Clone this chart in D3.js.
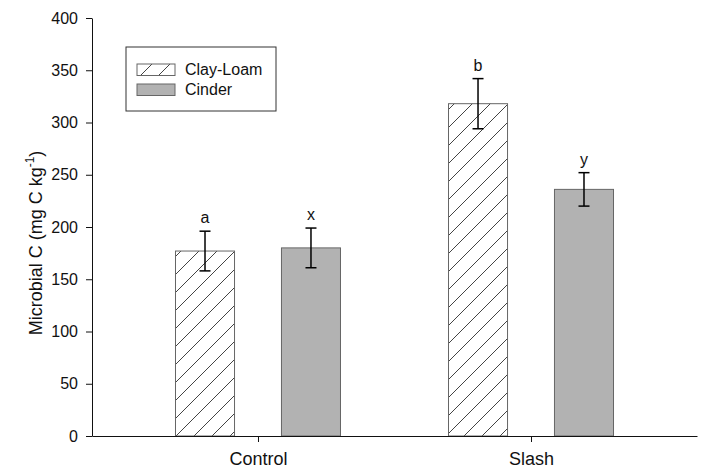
<!DOCTYPE html>
<html>
<head>
<meta charset="utf-8">
<script src="https://cdn.jsdelivr.net/npm/d3@7"></script>
<style>
  html, body { margin: 0; padding: 0; background: #fff; }
  svg { display: block; font-family: "Liberation Sans", Arial, Helvetica, sans-serif; }
</style>
</head>
<body>
<svg id="chart" width="701" height="470"></svg>
<script>
// ---- data ----
const groups = ["Control", "Slash"];
const series = ["Clay-Loam", "Cinder"];
const clayLoamValues = [177, 318];
const clayLoamErrors = [19, 24];
const cinderValues = [180, 236];
const cinderErrors = [19, 16];
const clayLoamLetters = ["a", "b"];
const cinderLetters = ["x", "y"];
const yTicks = [0, 50, 100, 150, 200, 250, 300, 350, 400];

(function () {
// ---- layout ----
const plotLeft = 92, plotRight = 697, plotTop = 18, plotBottom = 436;

const svg = d3.select("#chart");

const defs = svg.append("defs");
const pat = defs.append("pattern")
  .attr("id", "hatch")
  .attr("patternUnits", "userSpaceOnUse")
  .attr("width", 18).attr("height", 18);
pat.append("rect").attr("width", 18).attr("height", 18).attr("fill", "#fff");
pat.append("path")
  .attr("d", "M-2,20 L20,-2 M-4,4 L4,-4 M14,22 L22,14")
  .attr("stroke", "#444").attr("stroke-width", 1).attr("fill", "none");

const y = d3.scaleLinear().domain([0, 400]).range([plotBottom, plotTop]);
const x0 = d3.scalePoint().domain(groups).range([plotLeft, plotRight]).padding(0.608);
const x1 = d3.scaleBand().domain(series).range([-82.5, 82.5]).paddingInner(0.443);

const fills = { "Clay-Loam": "url(#hatch)", "Cinder": "#b2b2b2" };
const strokes = { "Clay-Loam": "#666", "Cinder": "#666" };

const rows = [];
groups.forEach((g, i) => {
  rows.push({ g, s: "Clay-Loam", v: clayLoamValues[i], e: clayLoamErrors[i], l: clayLoamLetters[i] });
  rows.push({ g, s: "Cinder", v: cinderValues[i], e: cinderErrors[i], l: cinderLetters[i] });
});

// bars
svg.append("g").selectAll("rect").data(rows).join("rect")
  .attr("x", d => x0(d.g) + x1(d.s))
  .attr("y", d => y(d.v))
  .attr("width", x1.bandwidth())
  .attr("height", d => y(0) - y(d.v))
  .attr("fill", d => fills[d.s])
  .attr("stroke", d => strokes[d.s])
  .attr("stroke-width", 1);

// error bars
const eg = svg.append("g").attr("stroke", "#000").attr("stroke-width", 1.5);
rows.forEach(d => {
  const cx = x0(d.g) + x1(d.s) + x1.bandwidth() / 2;
  eg.append("line").attr("x1", cx).attr("x2", cx).attr("y1", y(d.v + d.e)).attr("y2", y(d.v - d.e));
  eg.append("line").attr("x1", cx - 5.5).attr("x2", cx + 5.5).attr("y1", y(d.v + d.e)).attr("y2", y(d.v + d.e));
  eg.append("line").attr("x1", cx - 5.5).attr("x2", cx + 5.5).attr("y1", y(d.v - d.e)).attr("y2", y(d.v - d.e));
});

// letters
svg.append("g").selectAll("text").data(rows).join("text")
  .attr("x", d => x0(d.g) + x1(d.s) + x1.bandwidth() / 2)
  .attr("y", d => y(d.v + d.e) - 8)
  .attr("text-anchor", "middle")
  .attr("font-size", 16)
  .attr("fill", "#111")
  .text(d => d.l);

// y axis
const yAxis = svg.append("g")
  .attr("transform", `translate(${plotLeft},0)`)
  .call(d3.axisLeft(y).tickValues(yTicks).tickSize(6).tickSizeOuter(0).tickPadding(8));
yAxis.selectAll("text").attr("font-size", 16).attr("fill", "#111").attr("font-family", null);
yAxis.selectAll("line, path").attr("stroke", "#111");
yAxis.attr("font-family", null);

// x axis
const xAxis = svg.append("g")
  .attr("transform", `translate(0,${plotBottom})`)
  .call(d3.axisBottom(x0).tickSize(6).tickSizeOuter(0).tickPadding(10));
xAxis.selectAll("text").attr("font-size", 18).attr("fill", "#111");
xAxis.selectAll("line, path").attr("stroke", "#111");
xAxis.attr("font-family", null);

// y title
const yt = svg.append("text")
  .attr("transform", "translate(42,243) rotate(-90)")
  .attr("text-anchor", "middle")
  .attr("font-size", 18)
  .attr("fill", "#111");
yt.append("tspan").text("Microbial C (mg C kg");
yt.append("tspan").attr("font-size", 12).attr("dy", -8).text("-1");
yt.append("tspan").attr("dy", 8).text(")");

// legend
const lg = svg.append("g");
lg.append("rect").attr("x", 126).attr("y", 47).attr("width", 150).attr("height", 64)
  .attr("fill", "#fff").attr("stroke", "#333").attr("stroke-width", 1);
const legendY = [64, 84];
series.forEach((s, i) => {
  lg.append("rect").attr("x", 137).attr("y", legendY[i]).attr("width", 38).attr("height", 11.5)
    .attr("fill", fills[s]).attr("stroke", "#666").attr("stroke-width", 1);
  lg.append("text").attr("x", 185).attr("y", legendY[i] + 11).attr("font-size", 16).attr("fill", "#111").text(s);
});
})();
</script>
</body>
</html>
